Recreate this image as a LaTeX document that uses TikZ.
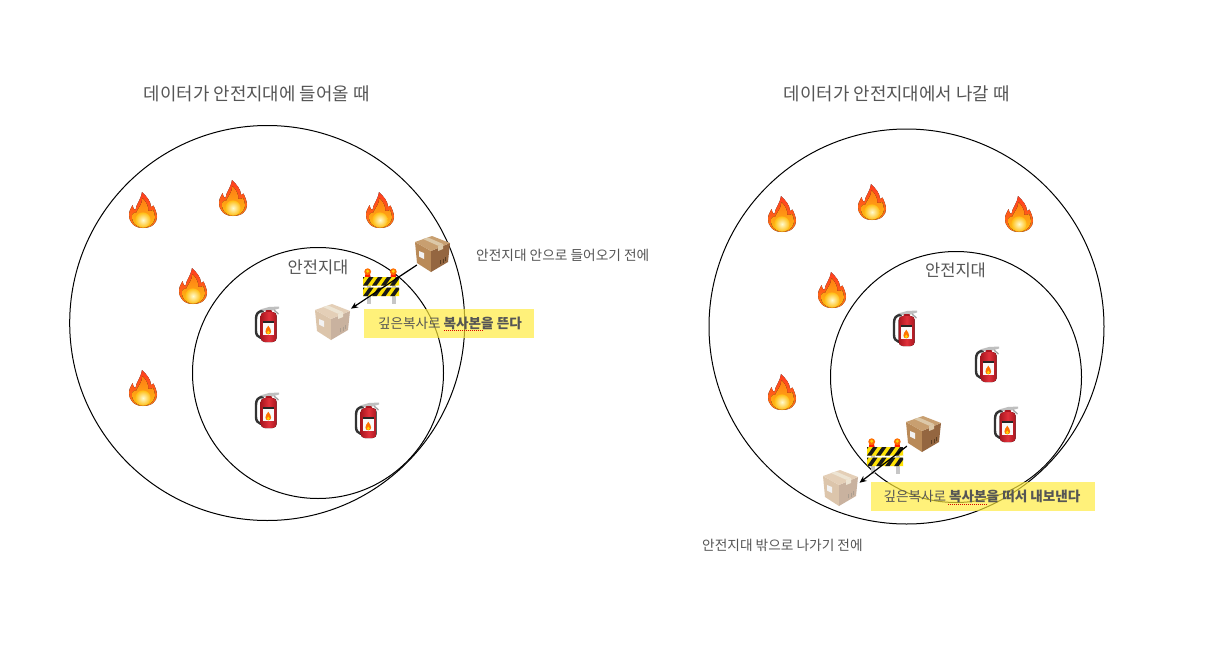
\documentclass[tikz,border=0pt]{standalone}
\usepackage{fontspec}
\setmainfont{Noto Sans CJK KR}
\usetikzlibrary{arrows.meta}
\definecolor{txt}{HTML}{555555}
\definecolor{hl}{HTML}{FFEB3B}
\definecolor{cTop}{HTML}{C89F70}
\definecolor{cLeft}{HTML}{B98A58}
\definecolor{cRight}{HTML}{946640}
\definecolor{cTape}{HTML}{DCC8A8}
\definecolor{cMark}{HTML}{5A3D22}
\definecolor{fRed}{HTML}{FF3D1F}
\definecolor{fOrange}{HTML}{FF7A14}
\definecolor{fAmber}{HTML}{FFBE14}
\definecolor{fGlow}{HTML}{FFFBCF}
\definecolor{exRed}{HTML}{E0303A}
\definecolor{exDark}{HTML}{A8161F}
\tikzset{
  ring/.style={circle,draw=black,line width=1pt,inner sep=0pt},
  title/.style={text=txt,font=\fontsize{17.85}{20}\selectfont,inner sep=0pt},
  zone/.style={text=txt,font=\fontsize{16.5}{18}\selectfont,inner sep=0pt},
  note/.style={text=txt,font=\fontsize{13.7}{16}\selectfont,inner sep=0pt},
  hlbox/.style={fill=hl,fill opacity=.68,text opacity=1,text=txt,inner sep=0pt,font=\fontsize{13.6}{16}\selectfont},
  slot/.style={circle,inner sep=0pt},
  conn/.style={line width=1.2pt,-{Stealth[length=7pt,width=6pt]}},
  spell/.style={red!85!black,line width=.8pt,dash pattern=on 1pt off 1pt},
  pics/fire/.style={code={
    \fill[top color=fRed,bottom color=fOrange]
      (0,18) .. controls (-9,18) and (-14,12) .. (-14,5)
      .. controls (-14,1) and (-12,-2) .. (-10.5,-5)
      .. controls (-10,-2) and (-9,0) .. (-7.5,0)
      .. controls (-7,-6) and (-2,-10) .. (-1,-18)
      .. controls (3,-14) and (8,-9) .. (8,-3)
      .. controls (9,-3) and (10,-4) .. (10.5,-4.5)
      .. controls (12,-1) and (14,3) .. (14,7)
      .. controls (14,13) and (9,18) .. (0,18) -- cycle;
    \fill[top color=fOrange,bottom color=fAmber]
      (0,17.5) .. controls (-7,17.5) and (-12,12) .. (-11,5)
      .. controls (-10,2) and (-8,3) .. (-7,3)
      .. controls (-5,-2) and (-1,-5) .. (-0.5,-12)
      .. controls (3,-8) and (6,-4) .. (5,1)
      .. controls (7,1) and (9,1) .. (10,0)
      .. controls (12,4) and (12.5,8) .. (11,11)
      .. controls (9,15) and (5,17.5) .. (0,17.5) -- cycle;
    \shade[inner color=fGlow,outer color=fAmber] (0,10) circle (7.6);
  }},
  pics/crate/.style={code={
    \fill[color=cLeft!#1!white] (-17,-12) -- (-1,-3) -- (-1,18) -- (-15,9) -- cycle;
    \fill[color=cRight!#1!white] (18,-11) -- (-1,-3) -- (-1,18) -- (16,8) -- cycle;
    \fill[color=cTop!#1!white] (-17,-12) -- (0,-18) -- (18,-11) -- (-1,-3) -- cycle;
    \fill[color=cTape!#1!white] (-9,-15) -- (-4,-16.5) -- (11,-10) -- (6,-8.3) -- cycle;
    \fill[color=cTape!#1!white] (6,-8.3) -- (11,-10) -- (11,-5) -- (6,-3) -- cycle;
    \fill[color=white!90!gray] (-13,-3) -- (-8,-1) -- (-8,5) -- (-13,2.5) -- cycle;
    \draw[color=cMark!#1!white,line width=.7pt] (8,6) -- (8,10) (11,4.5) -- (11,8.5) (13.5,3) -- (13.5,7);
  }},
  pics/extinguisher/.style={code={
    \draw[color=black!80,line width=2.4pt,line cap=round]
      (-4,-14) .. controls (-9,-14) and (-11,-11) .. (-11,-6) -- (-11,6) .. controls (-11,10) and (-9,12) .. (-6,13);
    \fill[color=gray!50] (-7,-15.5) -- (2,-18) -- (12,-18.5) -- (12,-16.5) -- (5,-14.5) -- (-1,-13.5) -- cycle;
    \draw[color=gray!70,line width=1.4pt] (7,-15) -- (11.5,-11);
    \fill[color=exDark,rounded corners=1pt] (-1.5,-15) rectangle (5,-10);
    \fill[left color=exDark,right color=exDark,middle color=exRed,rounded corners=4pt] (-6.3,-13) rectangle (9.7,17);
    \fill[color=black!85] (-4.2,-4.5) rectangle (6.8,-1);
    \fill[color=white!95!gray] (-4.2,-2) rectangle (6.8,10);
    \fill[color=orange!90!red] (1.3,9.3) .. controls (-2.5,9.3) and (-2.5,5) .. (1.3,.7) .. controls (5,5) and (5,9.3) .. (1.3,9.3) -- cycle;
    \fill[color=yellow!70!orange] (1.3,7.5) ellipse (1.5 and 1.9);
  }},
  pics/barrier/.style={code={
    \fill[color=gray!45] (-13.7,-10) rectangle (-10.3,17.5);
    \fill[color=gray!45] (11.3,-10) rectangle (14.7,17.5);
    \foreach \lx in {-13.3,12.3}{
      \fill[color=red!75!orange] (\lx-2.8,-9) -- (\lx-2,-14) -- (\lx+2,-14) -- (\lx+2.8,-9) -- cycle;
      \fill[color=orange!85!red] (\lx,-14.3) circle (3.4);
      \fill[color=yellow!70!orange] (\lx,-14.8) circle (1.7);
    }
    \foreach \by in {-9,1.7}{
      \fill[color=yellow!85!orange,rounded corners=.6pt] (-18,\by) rectangle (18,\by+8.5);
      \begin{scope}
        \clip (-18,\by) rectangle (18,\by+8.5);
        \foreach \sx in {-27,-18,...,27}{
          \fill[color=black!90] (\sx,\by+8.5) -- (\sx+4.5,\by+8.5) -- (\sx+10.5,\by) -- (\sx+6,\by) -- cycle;
        }
      \end{scope}
    }
  }}
}
\begin{document}
\begin{tikzpicture}[x=1pt,y=-1pt]
\useasboundingbox[fill=white] (0,0) rectangle (1216,672);

% ---------- left panel
\node[title] (titleL) at (256.7,94) {데이터가 안전지대에 들어올 때};
\node[ring,minimum size=395] (outerL) at (267.2,323) {};
\node[ring,minimum size=251] (innerL) at (318,373) {};
\node[zone] (zoneL) at (318,267.2) {안전지대};
\foreach \p in {(143,210),(233,198),(380,210),(193,286),(143,388)} \pic at \p {fire};
\foreach \p in {(267,325),(267,411),(367,421)} \pic at \p {extinguisher};
\node[slot,minimum size=37] (crateL) at (432,254) {};
\node[slot,minimum size=46] (paleL) at (332,322) {};
\pic at (crateL) {crate=100};
\pic at (381,286) {barrier};
\pic at (paleL) {crate=50};
\draw[conn] (crateL.216) -- (paleL.35);
\node[note,anchor=west] (noteL) at (476,255) {안전지대 안으로 들어오기 전에};
\node[hlbox,minimum width=170,minimum height=29] (hlL) at (449,323.5) {\textcolor{txt}{\hspace{2pt}깊은복사로 \textbf{복사본을 뜬다}}};
\draw[spell] (444,330.5) -- (483,330.5);

% ---------- right panel
\node[title] (titleR) at (896.7,94) {데이터가 안전지대에서 나갈 때};
\node[ring,minimum size=395] (outerR) at (906.5,326.5) {};
\node[ring,minimum size=251] (innerR) at (956,377) {};
\node[zone] (zoneR) at (955.5,270.2) {안전지대};
\foreach \p in {(782,214),(872,202),(1019,214),(832,290),(782,392)} \pic at \p {fire};
\foreach \p in {(905,329),(987,365),(1006,425)} \pic at \p {extinguisher};
\node[slot,minimum size=40] (crateR) at (923,434) {};
\node[slot,minimum size=40] (paleR) at (840,488) {};
\pic at (crateR) {crate=100};
\pic at (885,456) {barrier};
\pic at (paleR) {crate=50};
\draw[conn] (crateR.217) -- (paleR.15);
\node[note,anchor=west] (noteR) at (702,545) {안전지대 밖으로 나가기 전에};
\node[hlbox,minimum width=224,minimum height=29] (hlR) at (983,496.5) {\textcolor{txt}{깊은복사로 \textbf{복사본을 떠서 내보낸다}\hspace{2pt}}};
\draw[spell] (948,504.5) -- (987,504.5);
\end{tikzpicture}
\end{document}
